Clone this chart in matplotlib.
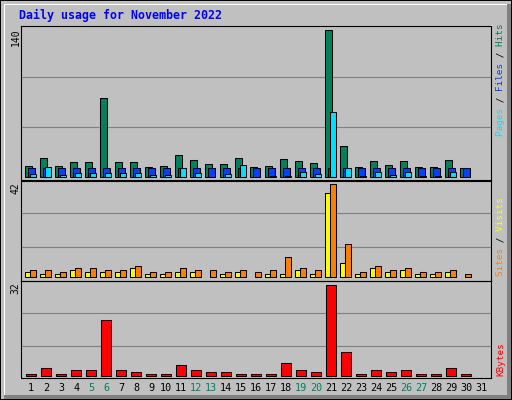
import numpy as np
import matplotlib.pyplot as plt
from matplotlib.patches import Rectangle

plt.rcParams['font.family'] = ['DejaVu Sans Mono']

# data
days = list(range(1, 32))
weekend = [5, 6, 12, 13, 19, 20, 26, 27]
hits = [10, 18, 10, 14, 14, 75, 14, 14, 9, 10, 21, 16, 12, 12, 18, 9,
        10, 17, 15, 13, 140, 29, 9, 15, 11, 15, 9, 9, 16, 8, 0]
files = [8, 8, 8, 8, 8, 8, 8, 8, 8, 8, 8, 8, 8, 8, 8, 8,
         8, 8, 8, 8, 8, 8, 8, 8, 8, 8, 8, 8, 8, 8, 0]
pages = [3, 9, 2, 4, 4, 4, 4, 4, 2, 2, 8, 4, 0, 3, 11, 0,
         1, 1, 5, 3, 62, 8, 1, 5, 2, 5, 1, 1, 5, 0, 0]
visits = [2, 1, 1, 3, 2, 2, 2, 4, 1, 1, 2, 2, 0, 1, 2, 0,
          1, 1, 3, 1, 38, 6, 1, 4, 2, 3, 1, 1, 2, 0, 0]
sites = [3, 3, 2, 4, 4, 3, 3, 5, 2, 2, 4, 3, 3, 2, 3, 2,
         3, 9, 4, 3, 42, 15, 2, 5, 3, 4, 2, 2, 3, 1, 0]
kbytes = [0.8, 2.9, 0.8, 1.9, 1.9, 19.6, 1.9, 1.5, 0.8, 0.8, 4.0, 2.2, 1.5, 1.5, 0.8, 0.8,
          0.8, 4.7, 2.2, 1.5, 32.0, 8.6, 0.8, 2.2, 1.2, 2.2, 0.8, 0.8, 2.6, 0.5, 0]

W, H = 512, 400
BG = '#C0C0C0'
EDGE = dict(edgecolor='black', linewidth=0.75)

fig = plt.figure(figsize=(W / 100, H / 100), dpi=100, facecolor=BG)

# background layer in pixel coordinates (frame, titles, side labels)
bg = fig.add_axes([0, 0, 1, 1])
bg.set_xlim(0, W)
bg.set_ylim(H, 0)
bg.axis('off')

def px_rect(x, y, w, h, c):
    bg.add_patch(Rectangle((x, y), w, h, facecolor=c, edgecolor='none'))

px_rect(0, 0, W, 1, 'black')
px_rect(0, 0, 1, H, 'black')
px_rect(4, 4, 503, 1, 'white')
px_rect(4, 4, 1, 391, 'white')
px_rect(507, 4, 4, 396, '#808080')
px_rect(4, 395, 507, 4, '#808080')
px_rect(W - 1, 0, 1, H, 'black')
px_rect(0, H - 1, W, 1, 'black')
# white edges of the graph area
px_rect(491, 25, 1, 354, 'white')
px_rect(20, 378, 472, 1, 'white')

bg.text(19, 15, 'Daily usage for November 2022', color='#0000FF',
        fontweight='bold', fontsize=8.4, ha='left', va='center')

for y, s in [(28, '140'), (182, '42'), (282, '32')]:
    bg.text(15.5, y, s, rotation=90, rotation_mode='anchor', ha='right',
            va='center', fontsize=7, color='black')

def side_label(y, parts):
    full = ''.join(t for t, c in parts)
    pos = 0
    for t, c in parts:
        s = ' ' * pos + t + ' ' * (len(full) - pos - len(t))
        bg.text(500.5, y, s, rotation=90, rotation_mode='anchor', ha='left',
                va='center', fontsize=6.7, color=c)
        pos += len(t)

side_label(136.5, [('Pages', '#00E0FF'), (' / ', 'black'), ('Files', '#0040FF'),
                   (' / ', 'black'), ('Hits', '#00805C')])
side_label(276.5, [('Sites', '#FF8000'), (' / ', 'black'), ('Visits', '#FFFF00')])
side_label(376.5, [('KBytes', '#FF0000')])

# three stacked panels
XMIN = 1 - (31.3 - 20.5) / 15.0
XMAX = XMIN + 470 / 15.0

def panel(top, bot, base, scale, grid_px):
    ax = fig.add_axes([20.5 / W, 1 - bot / H, 470 / W, (bot - top) / H])
    ax.set_facecolor('none')
    ax.set_xlim(XMIN, XMAX)
    ax.set_ylim((base - bot) / scale, (base - top) / scale)
    for g in grid_px:
        ax.axhline((base - g) / scale, color='#808080', linewidth=0.8, zorder=0)
    for sp in ax.spines.values():
        sp.set_color('black')
        sp.set_linewidth(0.8)
    ax.set_yticks([])
    return ax

ax1 = panel(25.5, 180.5, 176.8, 1.046, [76.7, 127.3])
ax2 = panel(180.5, 280.5, 276.6, 2.2, [213.3, 246.7])
ax3 = panel(280.5, 377.5, 375.8, 2.825, [313.3, 346.0])

x = np.array(days, dtype=float)

def bars(ax, vals, offset, width, color):
    v = np.array(vals, dtype=float)
    m = v > 0
    ax.bar(x[m] + offset, v[m], width=width, color=color, zorder=2, **EDGE)

bars(ax1, hits, -0.163, 0.45, '#00805C')
bars(ax1, files, -0.01, 0.45, '#0040FF')
bars(ax1, pages, 0.113, 0.43, '#00E0FF')

bars(ax2, visits, -0.253, 0.27, '#FFFF00')
bars(ax2, sites, 0.113, 0.43, '#FF8000')

bars(ax3, kbytes, 0.0, 0.65, '#FF0000')

ax1.set_xticks([])
ax2.set_xticks([])
ax3.set_xticks(days, [str(d) for d in days])
ax3.tick_params(axis='x', length=0, pad=4, labelsize=7.3)
for lab, d in zip(ax3.get_xticklabels(), days):
    lab.set_color('#00805C' if d in weekend else 'black')

fig.savefig('out.png', dpi=100, facecolor=BG)
